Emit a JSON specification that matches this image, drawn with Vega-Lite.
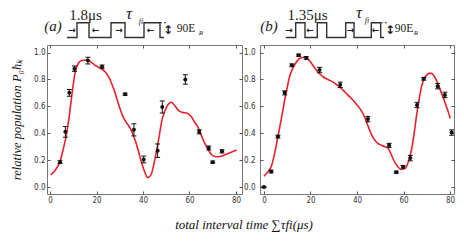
{
"$schema": "https://vega.github.io/schema/vega-lite/v6.json",
"padding": {"left": 10, "top": 0, "right": 0, "bottom": 0},
"background": "white",
"config": {"view": {"stroke": "#777", "strokeWidth": 1}, "axis": {"labelFont": "Liberation Sans Narrow, DejaVu Sans Condensed, sans-serif", "labelFontSize": 8, "labelColor": "#333", "tickColor": "#555", "grid": false, "domain": false}},
"datasets": {
"ptsA": [
{"t":4.3,"p":0.185,"lo":0.175,"hi":0.195},
{"t":6.6,"p":0.41,"lo":0.37,"hi":0.45},
{"t":8.3,"p":0.70,"lo":0.675,"hi":0.725},
{"t":10.5,"p":0.88,"lo":0.86,"hi":0.90},
{"t":16.3,"p":0.94,"lo":0.915,"hi":0.965},
{"t":22.4,"p":0.895,"lo":0.883,"hi":0.907},
{"t":32.3,"p":0.69,"lo":0.682,"hi":0.698},
{"t":36.1,"p":0.425,"lo":0.38,"hi":0.47},
{"t":40.3,"p":0.205,"lo":0.18,"hi":0.23},
{"t":46.3,"p":0.27,"lo":0.22,"hi":0.32},
{"t":48.3,"p":0.595,"lo":0.55,"hi":0.64},
{"t":58.2,"p":0.80,"lo":0.765,"hi":0.835},
{"t":64.2,"p":0.41,"lo":0.395,"hi":0.425},
{"t":68.3,"p":0.29,"lo":0.275,"hi":0.305},
{"t":70.0,"p":0.185,"lo":0.177,"hi":0.193},
{"t":74.0,"p":0.265,"lo":0.253,"hi":0.277}
],
"curveA": [
{"t":0.3,"p":0.09},{"t":2,"p":0.12},{"t":4.3,"p":0.19},{"t":5.8,"p":0.29},{"t":7.2,"p":0.40},{"t":8.3,"p":0.53},{"t":9.3,"p":0.67},{"t":10.8,"p":0.85},{"t":12.2,"p":0.92},{"t":13.6,"p":0.94},{"t":15.7,"p":0.945},{"t":17.5,"p":0.93},{"t":19.4,"p":0.905},{"t":21.5,"p":0.885},{"t":23.7,"p":0.857},{"t":25.2,"p":0.82},{"t":26.5,"p":0.77},{"t":28,"p":0.70},{"t":29.4,"p":0.62},{"t":31.5,"p":0.52},{"t":33,"p":0.475},{"t":34.4,"p":0.44},{"t":35.5,"p":0.40},{"t":36.6,"p":0.35},{"t":38,"p":0.27},{"t":39.4,"p":0.18},{"t":40.8,"p":0.11},{"t":41.9,"p":0.07},{"t":43,"p":0.08},{"t":43.7,"p":0.10},{"t":44.8,"p":0.18},{"t":45.9,"p":0.275},{"t":47,"p":0.38},{"t":48,"p":0.485},{"t":49.5,"p":0.57},{"t":50.9,"p":0.615},{"t":52.2,"p":0.63},{"t":53.5,"p":0.61},{"t":55.2,"p":0.57},{"t":57,"p":0.555},{"t":58.8,"p":0.55},{"t":60.9,"p":0.52},{"t":62.3,"p":0.48},{"t":63.8,"p":0.44},{"t":65.2,"p":0.38},{"t":66.7,"p":0.32},{"t":68,"p":0.28},{"t":69.5,"p":0.24},{"t":71,"p":0.227},{"t":72.4,"p":0.225},{"t":74,"p":0.23},{"t":75.3,"p":0.24},{"t":77.5,"p":0.255},{"t":80.3,"p":0.275}
],
"ptsB": [
{"t":0,"p":0.0,"lo":-0.005,"hi":0.005},
{"t":3.1,"p":0.115,"lo":0.105,"hi":0.125},
{"t":6.0,"p":0.375,"lo":0.365,"hi":0.385},
{"t":8.9,"p":0.70,"lo":0.685,"hi":0.715},
{"t":12.0,"p":0.905,"lo":0.895,"hi":0.915},
{"t":14.9,"p":0.98,"lo":0.972,"hi":0.988},
{"t":18.2,"p":0.96,"lo":0.95,"hi":0.97},
{"t":23.9,"p":0.87,"lo":0.85,"hi":0.89},
{"t":32.8,"p":0.76,"lo":0.74,"hi":0.78},
{"t":44.7,"p":0.505,"lo":0.485,"hi":0.525},
{"t":53.8,"p":0.31,"lo":0.295,"hi":0.325},
{"t":56.9,"p":0.11,"lo":0.102,"hi":0.118},
{"t":59.8,"p":0.15,"lo":0.14,"hi":0.16},
{"t":62.9,"p":0.215,"lo":0.195,"hi":0.235},
{"t":65.8,"p":0.61,"lo":0.59,"hi":0.63},
{"t":68.7,"p":0.805,"lo":0.795,"hi":0.815},
{"t":74.7,"p":0.75,"lo":0.73,"hi":0.77},
{"t":77.8,"p":0.685,"lo":0.665,"hi":0.705},
{"t":80.7,"p":0.405,"lo":0.385,"hi":0.425}
],
"curveB": [
{"t":0,"p":0.08},{"t":1.5,"p":0.11},{"t":3.1,"p":0.15},{"t":4.6,"p":0.25},{"t":6.0,"p":0.375},{"t":7.5,"p":0.51},{"t":8.9,"p":0.645},{"t":10,"p":0.74},{"t":11,"p":0.82},{"t":12.3,"p":0.88},{"t":13.6,"p":0.92},{"t":15.3,"p":0.955},{"t":17.5,"p":0.965},{"t":19.6,"p":0.94},{"t":21,"p":0.905},{"t":22.5,"p":0.87},{"t":24,"p":0.84},{"t":25.4,"p":0.82},{"t":27.5,"p":0.80},{"t":29.7,"p":0.78},{"t":32,"p":0.75},{"t":34,"p":0.72},{"t":36,"p":0.685},{"t":38.3,"p":0.645},{"t":40,"p":0.61},{"t":41.2,"p":0.585},{"t":43.3,"p":0.52},{"t":44.5,"p":0.465},{"t":45.5,"p":0.42},{"t":46.5,"p":0.38},{"t":47.6,"p":0.35},{"t":49,"p":0.325},{"t":50.5,"p":0.31},{"t":52,"p":0.30},{"t":53.3,"p":0.29},{"t":54.5,"p":0.25},{"t":55.5,"p":0.21},{"t":57.6,"p":0.15},{"t":59.1,"p":0.13},{"t":60.2,"p":0.135},{"t":61.2,"p":0.15},{"t":62.3,"p":0.2},{"t":63.4,"p":0.275},{"t":64.5,"p":0.39},{"t":65.5,"p":0.52},{"t":66.6,"p":0.64},{"t":67.7,"p":0.745},{"t":69,"p":0.81},{"t":69.8,"p":0.83},{"t":71,"p":0.845},{"t":72,"p":0.845},{"t":73,"p":0.83},{"t":74.1,"p":0.795},{"t":75.2,"p":0.75},{"t":76.3,"p":0.70},{"t":77.4,"p":0.65},{"t":78.4,"p":0.60},{"t":79.3,"p":0.555},{"t":80.1,"p":0.51}
],
"wave": [
{"g":"a","i":0,"u":73,"v":37.5},{"g":"a","i":1,"u":83,"v":37.5},{"g":"a","i":2,"u":83,"v":22.7},{"g":"a","i":3,"u":95,"v":22.7},{"g":"a","i":4,"u":95,"v":37.5},{"g":"a","i":5,"u":117,"v":37.5},{"g":"a","i":6,"u":117,"v":22.7},{"g":"a","i":7,"u":131,"v":22.7},{"g":"a","i":8,"u":131,"v":37.5},{"g":"a","i":9,"u":150,"v":37.5},{"g":"a","i":10,"u":150,"v":22.7},{"g":"a","i":11,"u":166,"v":22.7},{"g":"a","i":12,"u":166,"v":37.5},{"g":"a","i":13,"u":170,"v":37.5},
{"g":"b","i":0,"u":291.7,"v":37.5},{"g":"b","i":1,"u":301.7,"v":37.5},{"g":"b","i":2,"u":301.7,"v":22.7},{"g":"b","i":3,"u":311,"v":22.7},{"g":"b","i":4,"u":311,"v":37.5},{"g":"b","i":5,"u":323.3,"v":37.5},{"g":"b","i":6,"u":323.3,"v":22.7},{"g":"b","i":7,"u":332.7,"v":22.7},{"g":"b","i":8,"u":332.7,"v":37.5},{"g":"b","i":9,"u":351.7,"v":37.5},{"g":"b","i":10,"u":351.7,"v":22.7},{"g":"b","i":11,"u":360,"v":22.7},{"g":"b","i":12,"u":360,"v":37.5},{"g":"b","i":13,"u":377.3,"v":37.5},{"g":"b","i":14,"u":377.3,"v":22.7},{"g":"b","i":15,"u":386.7,"v":22.7},{"g":"b","i":16,"u":386.7,"v":37.5},{"g":"b","i":17,"u":390,"v":37.5}
],
"dash": [
{"g":"a","u":166,"v":22.7},{"g":"a","u":173,"v":22.7},
{"g":"b","u":386.7,"v":22.7},{"g":"b","u":393,"v":22.7}
],
"letters": [{"u":59,"v":26,"s":"(a)"},{"u":275,"v":26,"s":"(b)"}],
"widths": [{"u":91.5,"v":14.5,"s":"1.8μs"},{"u":313.5,"v":14.5,"s":"1.35μs"}],
"taus": [{"u":135,"v":14,"s":"τ"},{"u":365,"v":13,"s":"τ"}],
"subs": [{"u":147,"v":22,"s":"fi"},{"u":373,"v":21,"s":"fi"}],
"energy": [{"u":192,"v":29,"s":"90E"},{"u":410,"v":29,"s":"90E"}],
"rsub": [{"u":207,"v":33,"s":"R"},{"u":422,"v":33,"s":"R"}],
"arrows": [{"u":78,"v":30,"s":"→"},{"u":125,"v":30,"s":"→"},{"u":295,"v":30,"s":"→"},{"u":356.5,"v":30,"s":"→"},{"u":101.5,"v":30,"s":"←"},{"u":156.5,"v":30,"s":"←"},{"u":316,"v":30,"s":"←"},{"u":381.5,"v":30,"s":"←"}],
"dbl": [{"u":174,"v":30,"s":"↕"},{"u":396,"v":30,"s":"↕"}]
},
"title": {"text": "total interval time ∑τfi(μs)", "orient": "bottom", "anchor": "middle", "font": "Liberation Serif", "fontStyle": "italic", "fontWeight": "normal", "fontSize": 13, "color": "#111", "offset": 14, "dx": 11},
"spacing": 3,
"vconcat": [
{
"width": 409, "height": 40, "view": {"stroke": null},
"encoding": {
 "x": {"field": "u", "type": "quantitative", "scale": {"domain": [53, 462], "nice": false, "zero": false}, "axis": null},
 "y": {"field": "v", "type": "quantitative", "scale": {"domain": [0, 40], "nice": false, "zero": false, "reverse": true}, "axis": null}
},
"layer": [
 {"data": {"name": "wave"}, "mark": {"type": "line", "color": "#333", "strokeWidth": 1.4, "clip": false}, "encoding": {"detail": {"field": "g"}, "order": {"field": "i"}}},
 {"data": {"name": "dash"}, "mark": {"type": "line", "color": "#333", "strokeWidth": 1, "strokeDash": [2, 2]}, "encoding": {"detail": {"field": "g"}}},
 {"data": {"name": "letters"}, "mark": {"type": "text", "font": "Liberation Serif", "fontStyle": "italic", "fontSize": 15, "baseline": "middle", "color": "#222"}, "encoding": {"text": {"field": "s"}}},
 {"data": {"name": "widths"}, "mark": {"type": "text", "font": "Liberation Serif", "fontSize": 15, "baseline": "middle", "color": "#222"}, "encoding": {"text": {"field": "s"}}},
 {"data": {"name": "taus"}, "mark": {"type": "text", "font": "Liberation Serif", "fontStyle": "italic", "fontSize": 17, "baseline": "middle", "color": "#222"}, "encoding": {"text": {"field": "s"}}},
 {"data": {"name": "subs"}, "mark": {"type": "text", "font": "Liberation Serif", "fontStyle": "italic", "fontSize": 8, "baseline": "middle", "color": "#222"}, "encoding": {"text": {"field": "s"}}},
 {"data": {"name": "energy"}, "mark": {"type": "text", "font": "Liberation Serif", "fontSize": 11.5, "baseline": "middle", "color": "#222"}, "encoding": {"text": {"field": "s"}}},
 {"data": {"name": "rsub"}, "mark": {"type": "text", "font": "Liberation Serif", "fontStyle": "italic", "fontSize": 7, "baseline": "middle", "color": "#222"}, "encoding": {"text": {"field": "s"}}},
 {"data": {"name": "arrows"}, "mark": {"type": "text", "font": "DejaVu Sans", "fontSize": 9, "fontWeight": "bold", "baseline": "middle", "color": "#222"}, "encoding": {"text": {"field": "s"}}},
 {"data": {"name": "dbl"}, "mark": {"type": "text", "font": "DejaVu Sans", "fontSize": 12, "fontWeight": "bold", "baseline": "middle", "color": "#222"}, "encoding": {"text": {"field": "s"}}}
]
},
{
"spacing": 0,
"hconcat": [
{
"width": 195, "height": 149,
"resolve": {"axis": {"x": "independent", "y": "independent"}},
"layer": [
 {"data": {"name": "curveA"}, "mark": {"type": "line", "color": "#e8222b", "strokeWidth": 1.6, "interpolate": "monotone"},
  "encoding": {
   "x": {"field": "t", "type": "quantitative", "scale": {"domain": [-1.3, 82.6], "nice": false, "zero": false}, "axis": {"values": [0, 20, 40, 60, 80], "tickSize": -3, "labelPadding": 5, "title": null}},
   "y": {"field": "p", "type": "quantitative", "scale": {"domain": [-0.052, 1.056], "nice": false, "zero": false}, "axis": {"values": [0, 0.2, 0.4, 0.6, 0.8, 1], "tickSize": -3, "labelPadding": 5, "title": "relative population P₀ħₖ", "titleFont": "Liberation Serif", "titleFontStyle": "italic", "titleFontWeight": "normal", "titleFontSize": 12.5, "titleColor": "#111", "titlePadding": 10}}
  }},
 {"data": {"name": "ptsA"}, "mark": {"type": "rule", "color": "#111", "strokeWidth": 1},
  "encoding": {"x": {"field": "t", "type": "quantitative", "axis": null}, "y": {"field": "lo", "type": "quantitative", "axis": null}, "y2": {"field": "hi"}}},
 {"data": {"name": "ptsA"}, "mark": {"type": "tick", "orient": "horizontal", "size": 5, "thickness": 1, "color": "#111", "opacity": 1},
  "encoding": {"x": {"field": "t", "type": "quantitative", "axis": null}, "y": {"field": "lo", "type": "quantitative", "axis": null}}},
 {"data": {"name": "ptsA"}, "mark": {"type": "tick", "orient": "horizontal", "size": 5, "thickness": 1, "color": "#111", "opacity": 1},
  "encoding": {"x": {"field": "t", "type": "quantitative", "axis": null}, "y": {"field": "hi", "type": "quantitative", "axis": null}}},
 {"data": {"name": "ptsA"}, "mark": {"type": "circle", "size": 16, "color": "#111", "opacity": 1},
  "encoding": {"x": {"field": "t", "type": "quantitative", "axis": null}, "y": {"field": "p", "type": "quantitative", "axis": null}}},
 {"data": {"name": "ptsA"}, "mark": {"type": "point", "opacity": 0},
  "encoding": {"x": {"field": "t", "type": "quantitative", "axis": {"orient": "top", "values": [0, 20, 40, 60, 80], "tickSize": -3, "labels": false, "title": null}}, "y": {"field": "p", "type": "quantitative", "axis": {"orient": "right", "values": [0, 0.2, 0.4, 0.6, 0.8, 1], "tickSize": -3, "labels": false, "title": null}}}}
]
},
{
"width": 194, "height": 149,
"resolve": {"axis": {"x": "independent", "y": "independent"}},
"layer": [
 {"data": {"name": "curveB"}, "mark": {"type": "line", "color": "#e8222b", "strokeWidth": 1.6, "interpolate": "monotone"},
  "encoding": {
   "x": {"field": "t", "type": "quantitative", "scale": {"domain": [-1.7, 81.7], "nice": false, "zero": false}, "axis": {"values": [0, 20, 40, 60, 80], "tickSize": -3, "labelPadding": 5, "title": null}},
   "y": {"field": "p", "type": "quantitative", "scale": {"domain": [-0.052, 1.056], "nice": false, "zero": false}, "axis": {"values": [0, 0.2, 0.4, 0.6, 0.8, 1], "tickSize": -3, "labelPadding": 8, "title": null}}
  }},
 {"data": {"name": "ptsB"}, "mark": {"type": "rule", "color": "#111", "strokeWidth": 1},
  "encoding": {"x": {"field": "t", "type": "quantitative", "axis": null}, "y": {"field": "lo", "type": "quantitative", "axis": null}, "y2": {"field": "hi"}}},
 {"data": {"name": "ptsB"}, "mark": {"type": "tick", "orient": "horizontal", "size": 5, "thickness": 1, "color": "#111", "opacity": 1},
  "encoding": {"x": {"field": "t", "type": "quantitative", "axis": null}, "y": {"field": "lo", "type": "quantitative", "axis": null}}},
 {"data": {"name": "ptsB"}, "mark": {"type": "tick", "orient": "horizontal", "size": 5, "thickness": 1, "color": "#111", "opacity": 1},
  "encoding": {"x": {"field": "t", "type": "quantitative", "axis": null}, "y": {"field": "hi", "type": "quantitative", "axis": null}}},
 {"data": {"name": "ptsB"}, "mark": {"type": "circle", "size": 16, "color": "#111", "opacity": 1},
  "encoding": {"x": {"field": "t", "type": "quantitative", "axis": null}, "y": {"field": "p", "type": "quantitative", "axis": null}}},
 {"data": {"name": "ptsB"}, "mark": {"type": "point", "opacity": 0},
  "encoding": {"x": {"field": "t", "type": "quantitative", "axis": {"orient": "top", "values": [0, 20, 40, 60, 80], "tickSize": -3, "labels": false, "title": null}}, "y": {"field": "p", "type": "quantitative", "axis": {"orient": "right", "values": [0, 0.2, 0.4, 0.6, 0.8, 1], "tickSize": -3, "labels": false, "title": null}}}}
]
}
]
}
]
}
